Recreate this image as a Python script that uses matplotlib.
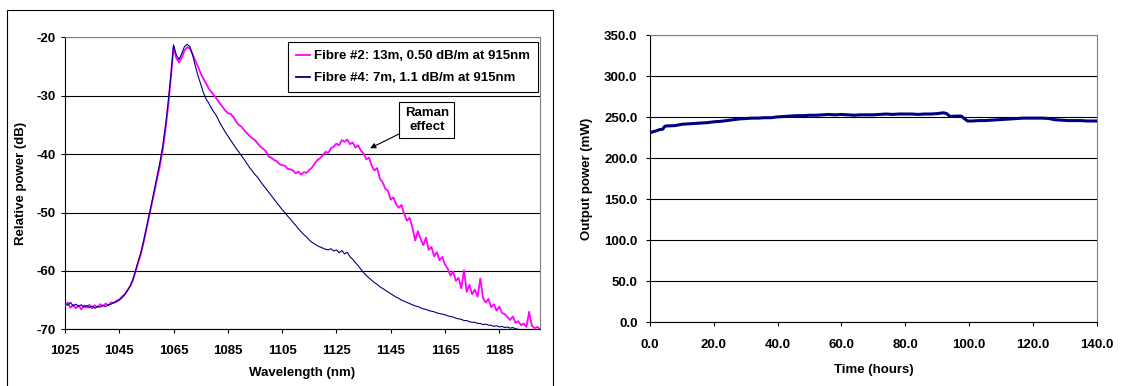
import numpy as np
import matplotlib
matplotlib.use("Agg")
import matplotlib.pyplot as plt
from matplotlib.patches import Rectangle

plt.rcParams["font.family"] = ["Liberation Sans", "DejaVu Sans"]
plt.rcParams["font.weight"] = "bold"
plt.rcParams["axes.labelweight"] = "bold"
plt.rcParams["axes.unicode_minus"] = False
plt.rcParams["font.size"] = 9.5

# --- left chart: spectra (1 nm steps) ---
wl_fibre2 = np.arange(1025, 1201)
db_fibre2 = [
    -65.9, -65.4, -66.3, -65.8, -66.4, -65.9, -66.6, -65.9, -66.3, -65.8,   # 1025
    -66.4, -65.9, -66.2, -65.7, -66.0, -65.6, -65.9, -65.4, -65.5, -65.1,   # 1035
    -64.9, -64.4, -64.0, -63.3, -62.6, -61.6, -60.1, -58.5, -57.0, -55.0,   # 1045
    -52.8, -50.6, -48.5, -46.3, -44.1, -41.9, -39.3, -35.9, -31.8, -26.9,   # 1055
    -21.6, -23.6, -24.3, -23.5, -22.3, -21.7, -21.9, -22.9, -24.0, -25.0,   # 1065
    -26.2, -27.1, -27.9, -28.8, -29.4, -30.0, -30.6, -31.3, -31.9, -32.5,   # 1075
    -33.0, -33.1, -33.6, -34.4, -35.0, -35.3, -35.9, -36.4, -36.9, -37.3,   # 1085
    -37.6, -38.2, -38.7, -39.1, -39.5, -40.4, -40.6, -41.0, -41.2, -41.7,   # 1095
    -41.9, -42.0, -42.5, -42.6, -42.8, -43.3, -43.0, -43.5, -43.1, -43.2,   # 1105
    -42.7, -42.3, -41.6, -41.0, -40.7, -40.2, -39.6, -39.8, -39.0, -38.7,   # 1115
    -38.2, -38.5, -37.6, -37.9, -37.5, -38.3, -38.0, -38.9, -38.5, -39.4,   # 1125
    -39.9, -40.9, -40.6, -42.0, -42.8, -42.4, -44.2, -44.8, -45.9, -46.3,   # 1135
    -47.8, -47.4, -48.6, -49.2, -48.7, -50.3, -51.4, -50.9, -52.6, -54.8,   # 1145
    -53.2, -54.5, -55.6, -54.3, -56.4, -55.9, -57.5, -56.8, -58.2, -57.6,   # 1155
    -58.9, -59.6, -60.8, -60.1, -61.7, -61.2, -63.0, -59.9, -63.6, -62.4,   # 1165
    -64.0, -63.2, -64.4, -61.3, -64.6, -65.4, -64.8, -66.2, -65.7, -66.8,   # 1175
    -66.1, -67.2, -67.4, -67.9, -68.4, -67.8, -68.9, -68.6, -69.3, -69.0,   # 1185
    -69.6, -67.0, -69.4, -69.8, -69.6, -70.0,                               # 1195
]

wl_fibre4 = np.arange(1025, 1193)
db_fibre4 = [
    -65.6, -65.9, -65.4, -66.0, -65.7, -66.1, -65.8, -66.2, -65.9, -66.3,   # 1025
    -66.0, -66.4, -66.1, -66.2, -65.9, -66.1, -65.8, -65.7, -65.4, -65.3,   # 1035
    -65.0, -64.6, -64.1, -63.4, -62.6, -61.5, -59.9, -58.3, -56.8, -54.8,   # 1045
    -52.6, -50.4, -48.2, -45.9, -43.6, -41.3, -38.6, -35.2, -31.2, -26.5,   # 1055
    -21.3, -23.0, -23.8, -22.8, -21.6, -21.2, -21.6, -23.0, -24.9, -26.6,   # 1065
    -28.0, -29.5, -30.6, -31.3, -32.2, -32.9, -33.6, -34.6, -35.4, -36.2,   # 1075
    -36.9, -37.6, -38.3, -39.0, -39.6, -40.3, -40.9, -41.6, -42.3, -42.9,   # 1085
    -43.5, -44.0, -44.7, -45.3, -45.9, -46.5, -47.1, -47.7, -48.3, -48.9,   # 1095
    -49.5, -50.0, -50.6, -51.1, -51.7, -52.2, -52.8, -53.3, -53.8, -54.2,   # 1105
    -54.7, -55.1, -55.4, -55.7, -55.9, -56.1, -56.3, -56.4, -56.2, -56.6,   # 1115
    -56.4, -56.9, -56.5, -57.1, -56.8, -57.6, -58.0, -58.6, -59.1, -59.7,   # 1125
    -60.3, -60.8, -61.2, -61.6, -62.0, -62.3, -62.7, -63.0, -63.3, -63.6,   # 1135
    -63.9, -64.2, -64.5, -64.7, -65.0, -65.2, -65.4, -65.6, -65.8, -66.0,   # 1145
    -66.1, -66.3, -66.5, -66.6, -66.8, -66.9, -67.0, -67.2, -67.3, -67.4,   # 1155
    -67.5, -67.7, -67.8, -67.9, -68.1, -68.2, -68.3, -68.5, -68.5, -68.7,   # 1165
    -68.8, -68.8, -69.0, -69.0, -69.2, -69.1, -69.3, -69.3, -69.5, -69.4,   # 1175
    -69.6, -69.5, -69.7, -69.6, -69.8, -69.7, -69.9, -70.0,                 # 1185
]

label_fibre2 = "Fibre #2: 13m, 0.50 dB/m at 915nm"
label_fibre4 = "Fibre #4: 7m, 1.1 dB/m at 915nm"
wl_ticks = [1025, 1045, 1065, 1085, 1105, 1125, 1145, 1165, 1185]
db_ticks = [-70, -60, -50, -40, -30, -20]

# --- right chart: output power over time ---
time_h = [0, 1, 2, 3, 4, 4.5, 5, 6, 8, 10,
          12, 14, 16, 18, 20, 22, 24, 26, 28, 30,
          32, 34, 36, 38, 40, 42, 44, 46, 48, 50,
          52, 54, 56, 58, 60, 62, 64, 66, 68, 70,
          72, 74, 76, 78, 80, 82, 84, 86, 88, 90,
          92, 93, 94, 96, 97.5, 98.5, 99.5, 101, 103, 105,
          107, 109, 111, 113, 115, 117, 119, 121, 123, 125,
          127, 129, 131, 133, 135, 137, 140]
power_mw = [231, 232.5, 233.5, 235, 235.5, 238.5, 239.5, 239.5, 240, 241.5,
            242, 242.5, 243, 243.5, 244.5, 245, 246, 247, 248, 248.5,
            249, 249, 249.5, 249.5, 250.5, 251, 251.5, 252, 252, 252.5,
            252.5, 253, 253.5, 253, 253.5, 253, 252.5, 253, 253, 253,
            253.5, 254, 253.5, 254, 254, 254, 253.5, 254, 254, 254.5,
            255.5, 254.5, 251, 251.5, 251.5, 248.5, 245.5, 245.5, 246, 246,
            246.5, 247, 247.5, 248, 248.5, 249, 249, 249, 249, 248.5,
            247, 246.5, 246, 246, 246, 245.5, 245.5]
time_ticks = [0, 20, 40, 60, 80, 100, 120, 140]
power_ticks = [0, 50, 100, 150, 200, 250, 300, 350]

W, H = 1121, 386
fig = plt.figure(figsize=(W / 100, H / 100), dpi=100)

def excel_axes(ax):
    ax.set_axisbelow(True)
    ax.yaxis.grid(True, color="black", lw=0.8)
    ax.spines["top"].set_color("#808080")
    ax.spines["right"].set_color("#808080")
    for s in ("left", "bottom"):
        ax.spines[s].set_color("black")
    for s in ax.spines.values():
        s.set_linewidth(0.8)
    ax.tick_params(direction="out", length=3, width=0.8, colors="black")

# left panel frame
fig.patches.append(Rectangle((7 / W, -0.02), (553 - 7) / W, 1 - 10 / H + 0.02,
                             transform=fig.transFigure, fill=False,
                             ec="black", lw=0.8))

ax1 = fig.add_axes([65 / W, 1 - 329.3 / H, 475 / W, 292 / H])
ax1.plot(wl_fibre2, db_fibre2, color="#FF00FF", lw=1.3, label=label_fibre2, zorder=3)
ax1.plot(wl_fibre4, db_fibre4, color="#000080", lw=0.8, label=label_fibre4, zorder=4)
ax1.set_xlim(1025, 1200)
ax1.set_ylim(-70, -20)
ax1.set_xticks(wl_ticks)
ax1.set_yticks(db_ticks)
excel_axes(ax1)
ax1.tick_params(axis="x", pad=8)
ax1.tick_params(axis="y", pad=4)
ax1.set_xlabel("Wavelength (nm)", va="center")
ax1.xaxis.set_label_coords(0.5, (329.3 - 373) / 292)
ax1.set_ylabel("Relative power (dB)", va="center")
ax1.yaxis.set_label_coords((21 - 65) / 475, 0.5)

leg = ax1.legend(loc="upper right", bbox_to_anchor=(0.996, 0.984), frameon=True,
                 fancybox=False, edgecolor="black", framealpha=1,
                 handlelength=1.1, handletextpad=0.3, labelspacing=0.75,
                 borderpad=0.6, borderaxespad=0)
leg.get_frame().set_linewidth(0.8)
for h in leg.get_lines():
    h.set_linewidth(1.3)

ax1.annotate("Raman\neffect", xy=(1137.4, -39.0), xytext=(1158.3, -34.2),
             ha="center", va="center", multialignment="center",
             bbox=dict(boxstyle="square,pad=0.4", fc="white", ec="black", lw=0.8),
             arrowprops=dict(arrowstyle="-|>", color="black", lw=0.8,
                             mutation_scale=8, shrinkA=0, shrinkB=0))

ax2 = fig.add_axes([650 / W, 1 - 322.3 / H, 446.7 / W, 287 / H])
ax2.plot(time_h, power_mw, color="#000080", lw=2.2, zorder=3)
ax2.set_xlim(0, 140)
ax2.set_ylim(0, 350)
ax2.set_xticks(time_ticks)
ax2.set_xticklabels([f"{t:.1f}" for t in time_ticks])
ax2.set_yticks(power_ticks)
ax2.set_yticklabels([f"{p:.1f}" for p in power_ticks])
excel_axes(ax2)
ax2.tick_params(axis="x", pad=9)
ax2.tick_params(axis="y", pad=6)
ax2.set_xlabel("Time (hours)", va="center")
ax2.xaxis.set_label_coords(0.5, (322.3 - 370) / 287)
ax2.set_ylabel("Output power (mW)", va="center")
ax2.yaxis.set_label_coords((587 - 650) / 446.7, 0.5)

fig.savefig("out.png", dpi=100)
